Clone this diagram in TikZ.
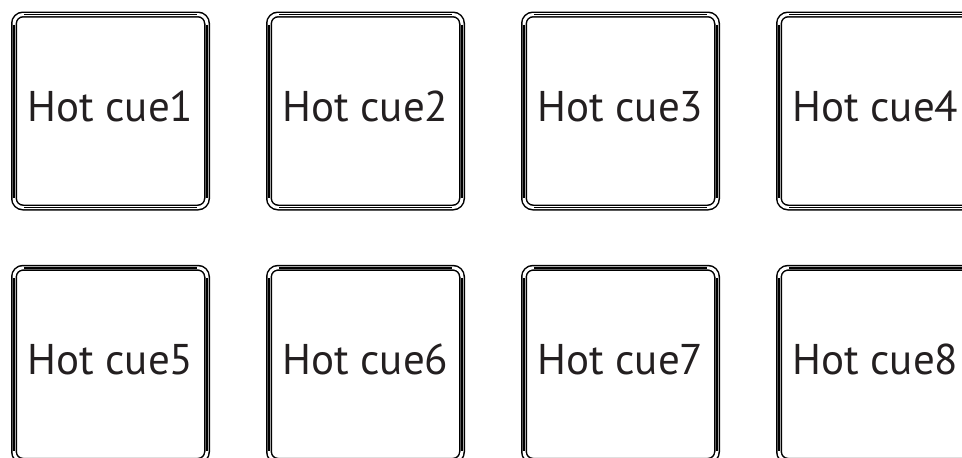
\documentclass[tikz,border=0pt]{standalone}
\usepackage{fontspec}
\setmainfont{PT Sans}
\usetikzlibrary{calc}
\definecolor{ink}{RGB}{35,31,32}

\begin{document}
\begin{tikzpicture}[x=1pt,y=-1pt,
    pad/.style={rectangle,draw,double,double distance=3pt,line width=1.5pt,
      rounded corners=9pt,minimum width=193pt,minimum height=193pt,
      outer sep=0pt,inner sep=0pt,text depth=10pt,text=ink,
      font=\fontsize{43}{50}\selectfont},
    groove/.style={line width=1.5pt}
  ]
    \useasboundingbox (0,0) rectangle (962,458);
    \clip (0,0) rectangle (962,458);

    % Top row
    \node[pad] (hc1) at (110.5, 111) {Hot cue1};
    \node[pad] (hc2) at (365.5, 111) {Hot cue2};
    \node[pad] (hc3) at (620.5, 111) {Hot cue3};
    \node[pad] (hc4) at (875.5, 111) {Hot cue4};

    % Bottom row
    \node[pad] (hc5) at (110.5, 364.3) {Hot cue5};
    \node[pad] (hc6) at (365.5, 364.3) {Hot cue6};
    \node[pad] (hc7) at (620.5, 364.3) {Hot cue7};
    \node[pad] (hc8) at (875.5, 364.3) {Hot cue8};

    % Middle line of the rim, straight sides only
    \foreach \p in {hc1,hc2,hc3,hc4,hc5,hc6,hc7,hc8} {
      \draw[groove] ($(\p.north west)+(10,0)$) -- ($(\p.north east)+(-10,0)$);
      \draw[groove] ($(\p.south west)+(10,0)$) -- ($(\p.south east)+(-10,0)$);
      \draw[groove] ($(\p.north west)+(0,10)$) -- ($(\p.south west)+(0,-10)$);
      \draw[groove] ($(\p.north east)+(0,10)$) -- ($(\p.south east)+(0,-10)$);
    }
\end{tikzpicture}
\end{document}
